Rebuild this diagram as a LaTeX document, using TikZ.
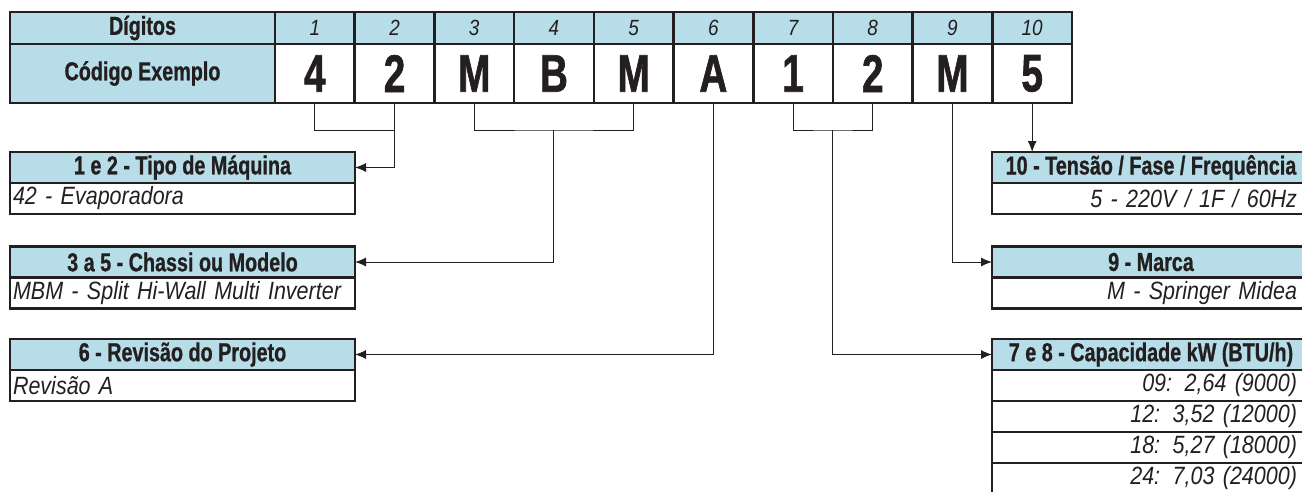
\documentclass[tikz,border=0pt]{standalone}
\usepackage{fontspec}
\setmainfont{Liberation Sans}
\newfontfamily\hdrfont{Liberation Sans}[FakeStretch=0.76,BoldFeatures={FakeBold=0.8}]
\newfontfamily\valfont{Liberation Sans}[FakeStretch=0.86,WordSpace=0.65]
\newfontfamily\codefont{Liberation Sans}[FakeStretch=0.73,BoldFeatures={FakeBold=1.2}]
\usetikzlibrary{positioning,arrows.meta}
\definecolor{hdrblue}{RGB}{183,222,232}
\definecolor{ink}{RGB}{35,31,32}

\tikzset{
  cell/.style={draw=ink, line width=2.6pt, outer sep=0pt, inner sep=0pt, text=ink},
  hdrcell/.style={cell, fill=hdrblue, font=\hdrfont\bfseries\fontsize{26}{26}\selectfont},
  numcell/.style={cell, fill=hdrblue, minimum width=79.7pt, minimum height=32pt,
    font=\valfont\itshape\fontsize{22}{22}\selectfont},
  codecell/.style={cell, minimum width=79.7pt, minimum height=59pt,
    font=\codefont\bfseries\fontsize{53}{53}\selectfont},
  boxhdr/.style={hdrcell, minimum height=31pt},
  boxval/.style={cell, minimum height=31pt, font=\valfont\itshape\fontsize{25}{25}\selectfont},
  leftval/.style={boxval, text width=339pt, inner xsep=3pt, align=left},
  rightval/.style={boxval, text width=292pt, inner xsep=13pt, align=right},
  link/.style={draw=ink, line width=1pt},
  linkarrow/.style={link, -{Latex[length=11pt,width=9pt]}},
}

\begin{document}
\begin{tikzpicture}[x=1pt,y=-1pt]

\useasboundingbox (0,0) rectangle (1302,491);
\clip (0,0) rectangle (1302,491);

% tabela do codigo
\node[hdrcell, minimum width=265pt, minimum height=32pt] (digitos) at (142.5,28) {Dígitos};
\node[hdrcell, minimum width=265pt, minimum height=59pt] (exemplo) at (142.5,73.5) {Código Exemplo};

\foreach \i/\c in {1/4,2/2,3/M,4/B,5/M,6/A,7/1,8/2,9/M,10/5}
{
\node[numcell] (d\i) at ({275+79.7*\i-39.85},28) {\i};
\node[codecell] (c\i) at ({275+79.7*\i-39.85},73.5) {\c};
}

% caixas da esquerda
\node[boxhdr, minimum width=345pt] (tipo) at (182.5,167.5) {1 e 2 - Tipo de Máquina};
\node[leftval, below=0pt of tipo] (tipoval) {42 - Evaporadora};

\node[boxhdr, minimum width=345pt] (chassi) at (182.5,262) {3 a 5 - Chassi ou Modelo};
\node[leftval, below=0pt of chassi] (chassival) {MBM - Split Hi-Wall Multi Inverter};

\node[boxhdr, minimum width=345pt] (revisao) at (182.5,354.5) {6 - Revisão do Projeto};
\node[leftval, below=0pt of revisao] (revisaoval) {Revisão A};

% caixas da direita
\node[boxhdr, minimum width=318pt] (tensao) at (1151,167.5) {10 - Tensão / Fase / Frequência};
\node[rightval, below=0pt of tensao] (tensaoval) {5 - 220V / 1F / 60Hz};

\node[boxhdr, minimum width=318pt] (marca) at (1151,262) {9 - Marca};
\node[rightval, below=0pt of marca] (marcaval) {M - Springer Midea};

\node[boxhdr, minimum width=318pt] (capac) at (1151,354.5) {7 e 8 - Capacidade kW (BTU/h)};
\node[rightval, below=0pt of capac] (cap1) {09: 2,64 (9000)};
\node[rightval, below=0pt of cap1] (cap2) {12: 3,52 (12000)};
\node[rightval, below=0pt of cap2] (cap3) {18: 5,27 (18000)};
\node[rightval, below=0pt of cap3] (cap4) {24: 7,03 (24000)};

% ligacoes
\path (c2.south) ++(0,27) coordinate (k12);
\path (c4.south) ++(0,27) coordinate (k35);
\path (c7.south) ++(39.85,27) coordinate (k78);

\draw[link] (c1.south) |- (k12);
\draw[linkarrow] (c2.south) |- (tipo.east);

\draw[link] (c3.south) |- (k35) -| (c5.south);
\draw[linkarrow] (k35) |- (chassi.east);

\draw[linkarrow] (c6.south) |- (revisao.east);

\draw[link] (c7.south) |- (k78) -| (c8.south);
\draw[linkarrow] (k78) |- (capac.west);

\draw[linkarrow] (c9.south) |- (marca.west);

\draw[linkarrow] (c10.south) -- (c10.south |- tensao.north);

\end{tikzpicture}
\end{document}
